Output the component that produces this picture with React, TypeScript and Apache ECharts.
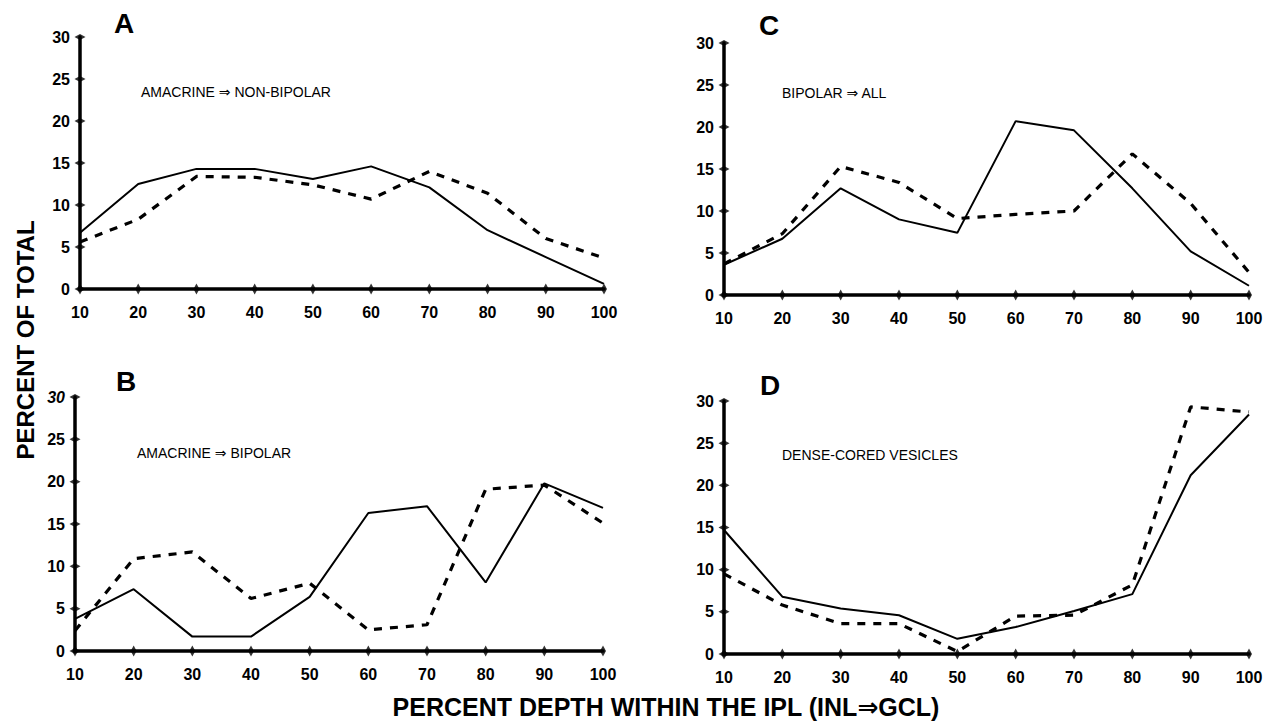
import React, { useEffect, useRef } from "react";
import * as echarts from "echarts";

const depth = [10, 20, 30, 40, 50, 60, 70, 80, 90, 100];
const yTicks = [0, 5, 10, 15, 20, 25, 30];

const aSolid = [6.7, 12.5, 14.3, 14.3, 13.1, 14.6, 12.1, 7.0, 3.8, 0.6];
const aDashed = [5.6, 8.3, 13.4, 13.3, 12.4, 10.7, 14.0, 11.4, 6.0, 3.7];
const bSolid = [3.8, 7.3, 1.7, 1.7, 6.4, 16.3, 17.1, 8.1, 19.8, 16.9];
const bDashed = [2.4, 10.9, 11.7, 6.2, 8.0, 2.5, 3.1, 19.1, 19.6, 15.1];
const cSolid = [3.6, 6.7, 12.7, 9.0, 7.4, 20.7, 19.6, 12.7, 5.2, 1.1];
const cDashed = [3.7, 7.3, 15.3, 13.4, 9.1, 9.6, 10.0, 16.8, 10.9, 2.7];
const dSolid = [14.7, 6.8, 5.4, 4.6, 1.8, 3.2, 5.1, 7.1, 21.2, 28.4];
const dDashed = [9.5, 5.8, 3.6, 3.6, 0.3, 4.5, 4.6, 8.2, 29.3, 28.7];

const panelLetters = ["A", "B", "C", "D"];
const panelNotes = [
  "AMACRINE \u21D2 NON-BIPOLAR",
  "AMACRINE \u21D2 BIPOLAR",
  "BIPOLAR \u21D2 ALL",
  "DENSE-CORED VESICLES",
];
const yTitle = "PERCENT OF TOTAL";
const xTitle = "PERCENT DEPTH WITHIN THE IPL (INL\u21D2GCL)";

const FONT = "'Liberation Sans', Arial, 'DejaVu Sans', sans-serif";

export default function App() {
  const ref = useRef<HTMLDivElement>(null);
  useEffect(() => {
    if (!ref.current) return;
    const chart = echarts.init(ref.current, null, { renderer: "svg" });

    const grids = [
      { left: 80, top: 37, width: 524, height: 252 },
      { left: 75, top: 397, width: 528, height: 254 },
      { left: 724, top: 43, width: 525, height: 252 },
      { left: 724, top: 401, width: 525, height: 253 },
    ];
    const solids = [aSolid, bSolid, cSolid, dSolid];
    const dashes = [aDashed, bDashed, cDashed, dDashed];
    const letterPos = [
      [114, 23],
      [116, 381],
      [759, 25],
      [760, 385],
    ];
    const notePos = [
      [141, 92],
      [137, 453],
      [782, 93],
      [782, 455],
    ];

    const xAxis = grids.map((_, i) => ({
      type: "value",
      gridIndex: i,
      min: 10,
      max: 100,
      interval: 10,
      axisLine: { show: true, onZero: false, lineStyle: { color: "#000", width: 3.5 } },
      axisTick: { show: false },
      splitLine: { show: false },
      axisLabel: {
        color: "#000",
        fontFamily: FONT,
        fontWeight: "bold",
        fontSize: 16,
        margin: 15,
        showMinLabel: true,
        showMaxLabel: true,
      },
    }));
    const yAxis = grids.map((_, i) => ({
      type: "value",
      gridIndex: i,
      min: 0,
      max: 30,
      interval: 5,
      axisLine: { show: true, onZero: false, lineStyle: { color: "#000", width: 3.5 } },
      axisTick: { show: false },
      splitLine: { show: false },
      axisLabel: {
        color: "#000",
        fontFamily: FONT,
        fontWeight: "bold",
        fontSize: 16,
        margin: 10,
        formatter: (v: number) => (i === 1 && v === 30 ? "{it|30}" : String(v)),
        rich: { it: { fontStyle: "italic", fontWeight: "bold", fontSize: 16, fontFamily: FONT, color: "#000" } },
      },
    }));

    const series: any[] = [];
    grids.forEach((_, i) => {
      series.push({
        type: "line",
        xAxisIndex: i,
        yAxisIndex: i,
        data: depth.map((d, k) => [d, solids[i][k]]),
        symbol: "none",
        lineStyle: { color: "#000", width: 2 },
        z: 3,
      });
      series.push({
        type: "line",
        xAxisIndex: i,
        yAxisIndex: i,
        data: depth.map((d, k) => [d, dashes[i][k]]),
        symbol: "none",
        lineStyle: { color: "#000", width: 3.2, type: [8, 8] },
        z: 3,
      });
      series.push({
        type: "scatter",
        xAxisIndex: i,
        yAxisIndex: i,
        data: depth.map((d) => [d, 0]),
        symbol: "diamond",
        symbolSize: [6, 11],
        itemStyle: { color: "#000" },
        clip: false,
        silent: true,
        z: 5,
      });
      series.push({
        type: "scatter",
        xAxisIndex: i,
        yAxisIndex: i,
        data: yTicks.map((v) => [10, v]),
        symbol: "diamond",
        symbolSize: [11, 6],
        itemStyle: { color: "#000" },
        clip: false,
        silent: true,
        z: 5,
      });
    });

    const graphic: any[] = [];
    panelLetters.forEach((t, i) => {
      graphic.push({
        type: "text",
        x: letterPos[i][0],
        y: letterPos[i][1],
        style: {
          text: t,
          font: `bold 28px ${FONT}`,
          fill: "#000",
          textAlign: "left",
          textVerticalAlign: "middle",
        },
      });
      graphic.push({
        type: "text",
        x: notePos[i][0],
        y: notePos[i][1],
        style: {
          text: panelNotes[i],
          font: `14px ${FONT}`,
          fill: "#000",
          textAlign: "left",
          textVerticalAlign: "middle",
        },
      });
    });
    graphic.push({
      type: "text",
      x: 25,
      y: 340,
      rotation: Math.PI / 2,
      style: {
        text: yTitle,
        font: `bold 24px ${FONT}`,
        fill: "#000",
        textAlign: "center",
        textVerticalAlign: "middle",
      },
    });
    graphic.push({
      type: "text",
      x: 666,
      y: 707,
      style: {
        text: xTitle,
        font: `bold 25px ${FONT}`,
        fill: "#000",
        textAlign: "center",
        textVerticalAlign: "middle",
      },
    });

    chart.setOption({
      animation: false,
      backgroundColor: "#fff",
      grid: grids.map((g) => ({ ...g, containLabel: false })),
      xAxis,
      yAxis,
      series,
      graphic,
    });
    return () => chart.dispose();
  }, []);
  return (
    <div
      ref={ref}
      style={{ position: "fixed", left: 0, top: 0, width: 1272, height: 723, background: "#fff" }}
    />
  );
}
